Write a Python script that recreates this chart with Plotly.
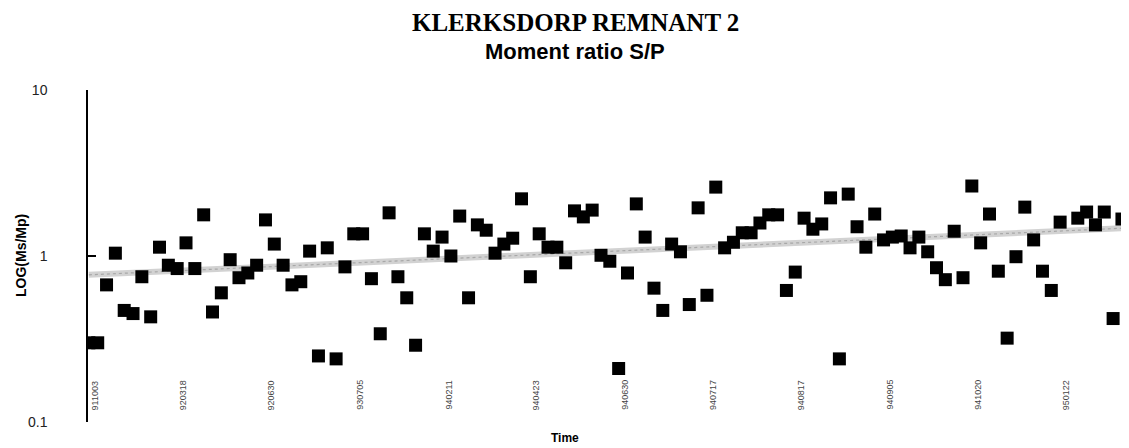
import plotly.graph_objects as go

# ---- data ----
category_index = list(range(118))
ratio_values = [
    0.30, 0.30, 0.67, 1.04, 0.47, 0.45, 0.75, 0.43, 1.13, 0.88,
    0.84, 1.20, 0.84, 1.77, 0.46, 0.60, 0.95, 0.74, 0.79, 0.88,
    1.65, 1.18, 0.88, 0.67, 0.70, 1.07, 0.25, 1.12, 0.24, 0.86,
    1.36, 1.36, 0.73, 0.34, 1.82, 0.75, 0.56, 0.29, 1.36, 1.07,
    1.30, 1.00, 1.74, 0.56, 1.54, 1.43, 1.04, 1.18, 1.28, 2.21,
    0.75, 1.36, 1.13, 1.13, 0.91, 1.87, 1.72, 1.89, 1.01, 0.93,
    0.21, 0.79, 2.06, 1.30, 0.64, 0.47, 1.18, 1.06, 0.51, 1.95,
    0.58, 2.60, 1.12, 1.21, 1.38, 1.38, 1.58, 1.77, 1.77, 0.62,
    0.80, 1.69, 1.45, 1.56, 2.24, 0.24, 2.36, 1.50, 1.13, 1.79,
    1.25, 1.30, 1.32, 1.12, 1.30, 1.06, 0.85, 0.72, 1.41, 0.74,
    2.64, 1.20, 1.79, 0.81, 0.32, 0.99, 1.97, 1.25, 0.81, 0.62,
    1.60, None, 1.69, 1.84, 1.54, 1.84, 0.42, 1.67,
]
trend_x = [0, 117]
trend_y = [0.77, 1.47]

tick_positions = [0, 10, 20, 30, 40, 50, 60, 70, 80, 90, 100, 110]
tick_labels = ["911003", "920318", "920630", "930705", "940211", "940423",
               "940630", "940717", "940817", "940905", "941020", "950122"]

y_tick_values = [0.1, 1, 10]
y_tick_labels = ["0.1", "1", "10"]

fig = go.Figure()

fig.add_trace(go.Scatter(
    x=trend_x, y=trend_y, mode="lines",
    line=dict(color="#d2d2d2", width=6),
    hoverinfo="skip", showlegend=False,
))
fig.add_trace(go.Scatter(
    x=trend_x, y=trend_y, mode="lines",
    line=dict(color="#a8a8a8", width=1.2, dash="dot"),
    hoverinfo="skip", showlegend=False,
))
fig.add_trace(go.Scatter(
    x=category_index, y=ratio_values, mode="markers",
    marker=dict(symbol="square", size=13, color="black"),
    showlegend=False,
))

annotations = []
for pos, lab in zip(tick_positions, tick_labels):
    annotations.append(dict(
        x=pos, y=0.03, xref="x", yref="paper", text=lab, showarrow=False,
        textangle=-90, xanchor="center", yanchor="bottom", xshift=6,
        font=dict(family="Liberation Sans, Arial", size=9, color="#444"),
    ))

annotations += [
    dict(x=0.468, y=1.247, xref="paper", yref="paper", showarrow=False, borderpad=0,
         text="<b>KLERKSDORP REMNANT 2</b>", xanchor="center", yanchor="top",
         font=dict(family="Liberation Serif, Times New Roman", size=25, color="black")),
    dict(x=0.468, y=1.1145, xref="paper", yref="paper", showarrow=False, borderpad=0,
         text="<b>Moment ratio S/P</b>", xanchor="center", yanchor="middle",
         font=dict(family="Liberation Sans, Arial", size=22, color="black")),
    dict(x=0.458, y=-0.048, xref="paper", yref="paper", showarrow=False,
         text="<b>Time</b>", xanchor="center", yanchor="middle",
         font=dict(family="Liberation Sans, Arial", size=12, color="black")),
    dict(x=0, y=0.5, xref="paper", yref="paper", showarrow=False, xshift=-67,
         text="<b>LOG(Ms/Mp)</b>", textangle=-90, xanchor="center", yanchor="middle",
         font=dict(family="Liberation Sans, Arial", size=14, color="black")),
]

# page body has an 8px default margin, so the figure is 8px smaller than the window
fig.update_layout(
    width=1121, height=440,
    margin=dict(l=80, r=0, t=82, b=26),
    paper_bgcolor="white", plot_bgcolor="white",
    annotations=annotations,
    xaxis=dict(range=[-0.1, 117.8], showgrid=False, zeroline=False,
               showline=False, showticklabels=False, ticks=""),
    yaxis=dict(type="log", range=[-1, 1], showgrid=False, zeroline=False,
               showline=True, linecolor="black", linewidth=1.5,
               ticks="inside", ticklen=8, tickcolor="black", tickwidth=1.5,
               tickvals=y_tick_values, ticktext=y_tick_labels,
               ticklabelstandoff=36,
               tickfont=dict(family="Liberation Sans, Arial", size=14, color="#222")),
)

fig.write_html("out.html")
